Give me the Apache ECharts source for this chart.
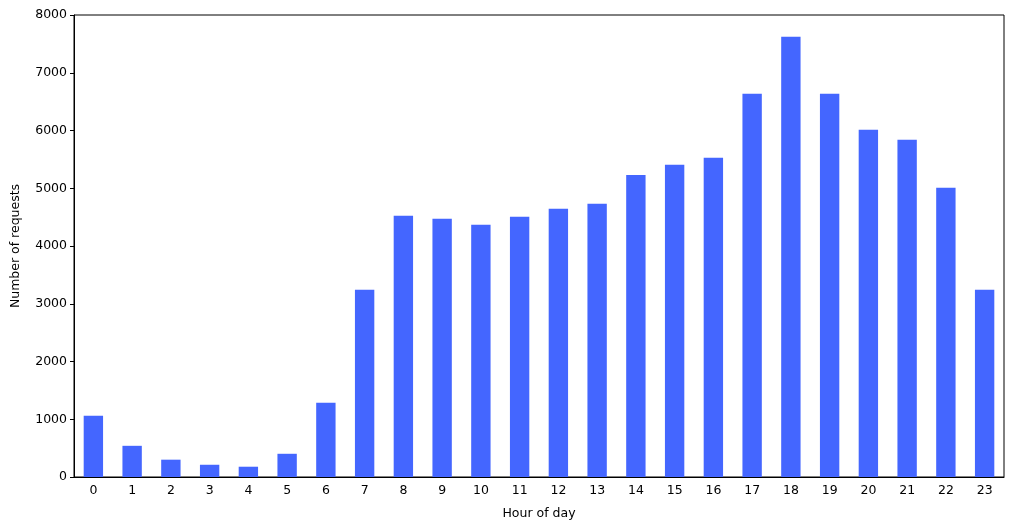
<!DOCTYPE html>
<html>
<head>
<meta charset="utf-8">
<script src="https://cdn.jsdelivr.net/npm/echarts@6/dist/echarts.min.js"></script>
<style>html,body{margin:0;padding:0;background:#fff}#c{width:1014px;height:530px}</style>
</head>
<body>
<div id="c"></div>
<script>
const hours = ['0','1','2','3','4','5','6','7','8','9','10','11','12','13','14','15','16','17','18','19','20','21','22','23'];
const requests = [1060, 540, 300, 212, 178, 402, 1287, 3243, 4525, 4473, 4369, 4507, 4646, 4733, 5229, 5408, 5529, 6637, 7624, 6637, 6014, 5841, 5010, 3243];
const yTicks = [0, 1000, 2000, 3000, 4000, 5000, 6000, 7000, 8000];

const font = 'DejaVu Sans';
const chart = echarts.init(document.getElementById('c'), null, {renderer: 'canvas'});
chart.setOption({
  animation: false,
  grid: {left: 74, right: 10, top: 15, bottom: 53, containLabel: false, outerBoundsMode: 'none',
         show: true, borderColor: '#000', borderWidth: 1, backgroundColor: 'transparent'},
  xAxis: {
    type: 'category',
    data: hours,
    name: 'Hour of day',
    nameLocation: 'middle',
    nameGap: 30,
    nameTextStyle: {fontFamily: font, fontSize: 12.5, color: '#000'},
    axisLine: {lineStyle: {color: '#000', width: 1}},
    axisTick: {alignWithLabel: true, length: 4, lineStyle: {color: '#000'}},
    axisLabel: {fontFamily: font, fontSize: 12.5, color: '#000', margin: 7},
    splitLine: {show: false}
  },
  yAxis: {
    type: 'value',
    min: yTicks[0],
    max: yTicks[yTicks.length - 1],
    interval: 1000,
    name: 'Number of requests',
    nameLocation: 'middle',
    nameGap: 52,
    nameTextStyle: {fontFamily: font, fontSize: 12.5, color: '#000'},
    axisLine: {show: true, lineStyle: {color: '#000', width: 1}},
    axisTick: {show: true, length: 4, lineStyle: {color: '#000'}},
    axisLabel: {fontFamily: font, fontSize: 12.5, color: '#000', margin: 7, formatter: v => String(v)},
    splitLine: {show: false}
  },
  series: [{
    type: 'bar',
    data: requests,
    barWidth: '50%',
    itemStyle: {color: '#4466ff'}
  }]
});
</script>
</body>
</html>
